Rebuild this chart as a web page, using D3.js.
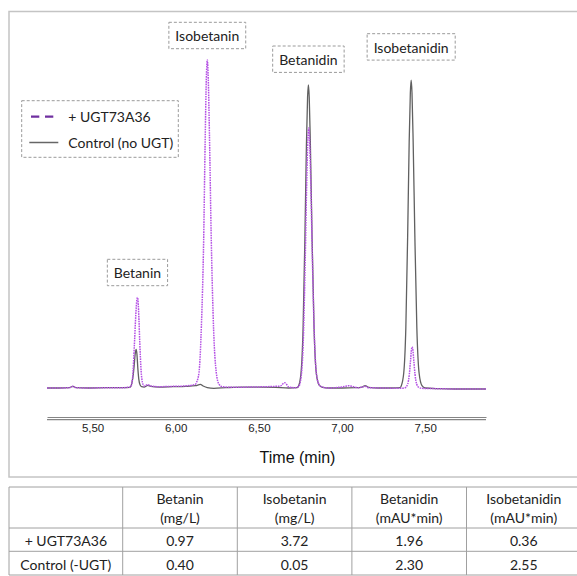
<!DOCTYPE html>
<html>
<head>
<meta charset="utf-8">
<script src="https://cdn.jsdelivr.net/npm/d3@7"></script>
<style>
  html, body { margin: 0; padding: 0; background: #fff; }
  svg { display: block; }
</style>
</head>
<body>
<svg id="chart" width="577" height="576"></svg>
<script>
// ---------- DATA ----------
// Control (no UGT) chromatogram: [time (min), signal]
const controlTrace = [
  [5.226,0.3],[5.30,0.3],[5.36,0.4],[5.382,0.8],[5.40,0.4],[5.48,0.3],[5.58,0.4],[5.68,0.4],
  [5.725,0.5],[5.735,1.5],[5.745,4.5],[5.750,7.0],[5.756,10.5],[5.762,12.0],[5.767,10.5],
  [5.772,6.5],[5.778,3.0],[5.786,1.2],[5.795,0.7],[5.81,0.6],[5.832,1.1],[5.85,0.8],[5.90,0.6],
  [5.98,0.7],[6.06,0.8],[6.12,1.0],[6.148,1.4],[6.165,0.9],[6.19,0.4],[6.23,0.2],[6.30,0.4],
  [6.40,0.6],[6.50,0.6],[6.60,0.5],[6.68,0.3],[6.73,0.4],
  [6.738,0.8],[6.753,4.6],[6.766,18.5],[6.777,46],[6.786,74],[6.793,88.7],[6.798,92.4],
  [6.803,88.7],[6.810,74],[6.820,46],[6.832,18.5],[6.846,4.6],[6.863,1.2],[6.88,0.6],
  [6.92,0.3],[7.00,0.3],[7.08,0.4],[7.12,0.6],[7.14,1.0],[7.16,0.5],[7.22,0.3],[7.30,0.3],[7.35,0.4],
  [7.356,0.9],[7.371,4.7],[7.384,18.8],[7.395,47],[7.404,75],[7.411,90],[7.416,93.9],
  [7.421,90],[7.428,75],[7.438,47],[7.450,18.8],[7.464,4.7],[7.481,1.0],[7.50,0.3],
  [7.58,0.1],[7.68,0.0],[7.78,0.0],[7.866,0.0]
];
// + UGT73A36 chromatogram: [time (min), signal]
const ugtTrace = [
  [5.226,0.3],[5.30,0.3],[5.36,0.4],[5.382,0.8],[5.40,0.4],[5.48,0.3],[5.58,0.4],[5.68,0.4],
  [5.728,0.6],[5.740,3.0],[5.752,14],[5.760,22.5],[5.766,27],[5.770,27.8],[5.774,26.5],
  [5.779,21],[5.784,14],[5.792,5.5],[5.800,2.0],[5.810,0.9],[5.832,1.3],[5.85,0.9],[5.90,0.7],
  [5.98,0.8],[6.05,0.9],[6.10,1.2],[6.12,1.5],
  [6.125,2.0],[6.140,5],[6.155,20],[6.168,45],[6.177,75],[6.184,94],[6.190,100],[6.196,94],
  [6.203,77],[6.214,45],[6.228,18],[6.244,5],[6.260,1.5],[6.28,0.7],[6.35,0.5],[6.45,0.6],
  [6.55,0.7],[6.60,0.8],[6.63,0.9],[6.645,1.6],[6.655,1.9],[6.665,1.5],[6.68,0.6],[6.72,0.4],
  [6.740,0.8],[6.755,4.0],[6.768,15.9],[6.779,39.7],[6.788,63.4],[6.795,76.1],[6.800,79.3],
  [6.805,76.1],[6.812,63.4],[6.822,39.7],[6.834,15.9],[6.848,4.0],[6.865,1.1],[6.88,0.6],
  [6.92,0.3],[6.98,0.5],[7.02,0.8],[7.04,1.0],[7.06,0.8],[7.10,0.4],[7.14,0.8],[7.16,0.4],
  [7.25,0.3],[7.35,0.2],
  [7.380,0.4],[7.395,1.5],[7.405,4.5],[7.412,8.5],[7.418,12],[7.422,12.8],[7.426,12],
  [7.432,8.5],[7.439,4.5],[7.449,1.5],[7.462,0.5],[7.48,0.2],[7.58,0.1],[7.68,0.0],
  [7.78,0.0],[7.866,0.0]
];
const seriesNames = ["+ UGT73A36", "Control (no UGT)"];
const peakNames = ["Betanin", "Isobetanin", "Betanidin", "Isobetanidin"];
const peakTimes = [5.770, 6.190, 6.798, 7.416];
const tickValues = [5.5, 6.0, 6.5, 7.0, 7.5];
const tickLabels = ["5,50", "6,00", "6,50", "7,00", "7,50"];
const axisTitle = "Time (min)";
// table
const tableHeaders = ["Betanin", "Isobetanin", "Betanidin", "Isobetanidin"];
const tableUnits = ["(mg/L)", "(mg/L)", "(mAU*min)", "(mAU*min)"];
const rowLabels = ["+ UGT73A36", "Control (-UGT)"];
const ugtValues = ["0.97", "3.72", "1.96", "0.36"];
const controlValues = ["0.40", "0.05", "2.30", "2.55"];

// ---------- LAYOUT ----------
const svg = d3.select("#chart");
const labelFont = "Lato, 'Open Sans', sans-serif";
const axisFont = "'Liberation Sans', Arial, sans-serif";
const purple = "#b450e4";
const grey = "#606060";
const fs = 14;

svg.append("rect").attr("width", 577).attr("height", 576).attr("fill", "#fff");

// outer frame of chart panel
svg.append("rect")
  .attr("x", 9).attr("y", 11.5).attr("width", 600).attr("height", 465.5)
  .attr("fill", "none").attr("stroke", "#c4c4c4").attr("stroke-width", 1.5);

const x = d3.scaleLinear().domain([5.226, 7.866]).range([47, 486]);
const y = d3.scaleLinear().domain([0, 100]).range([389, 60]);

// axis
const axisG = svg.append("g").attr("transform", "translate(0,417)")
  .call(d3.axisBottom(x).tickValues(tickValues)
    .tickFormat((d, i) => tickLabels[i]).tickSize(0).tickPadding(7));
axisG.select(".domain").attr("stroke", "#858585").attr("stroke-width", 1.2);
axisG.selectAll("text").attr("font-family", axisFont).attr("font-size", 11.5).attr("fill", "#222");
svg.append("line")
  .attr("x1", x.range()[0]).attr("x2", x.range()[1])
  .attr("y1", 419.6).attr("y2", 419.6)
  .attr("stroke", "#858585").attr("stroke-width", 1.2);

svg.append("text")
  .attr("x", (x.range()[0] + x.range()[1]) / 2 + 31).attr("y", 463)
  .attr("text-anchor", "middle").attr("font-family", axisFont).attr("font-size", 16)
  .attr("fill", "#111").text(axisTitle);

// traces
const line = d3.line().x(d => x(d[0])).y(d => y(d[1])).curve(d3.curveMonotoneX);
svg.append("path").datum(controlTrace).attr("d", line)
  .attr("fill", "none").attr("stroke", grey).attr("stroke-width", 1.3);
svg.append("path").datum(ugtTrace).attr("d", line)
  .attr("fill", "none").attr("stroke", purple).attr("stroke-width", 1.5)
  .attr("stroke-dasharray", "1.6,0.9");

// peak label boxes
const boxTops = [259.3, 22.3, 46, 33.7];
peakNames.forEach((name, i) => {
  const g = svg.append("g");
  const cx = x(peakTimes[i]);
  const t = g.append("text").attr("x", cx).attr("y", boxTops[i] + 13.4)
    .attr("text-anchor", "middle").attr("dominant-baseline", "central")
    .attr("font-family", labelFont).attr("font-size", fs).attr("fill", "#222").text(name);
  const w = t.node().getComputedTextLength() + 13;
  g.insert("rect", "text").attr("x", cx - w / 2).attr("y", boxTops[i])
    .attr("width", w).attr("height", 26.4)
    .attr("fill", "#fff").attr("stroke", "#9a9a9a").attr("stroke-width", 1)
    .attr("stroke-dasharray", "3,2");
});

// legend
const lg = svg.append("g");
lg.append("rect").attr("x", 21.7).attr("y", 100.7).attr("width", 156.6).attr("height", 56.6)
  .attr("fill", "#fff").attr("stroke", "#9a9a9a").attr("stroke-dasharray", "3,2");
lg.append("line").attr("x1", 31).attr("x2", 53.5).attr("y1", 116.7).attr("y2", 116.7)
  .attr("stroke", "#7030a0").attr("stroke-width", 2.2).attr("stroke-dasharray", "8.3,5.7");
lg.append("line").attr("x1", 29.3).attr("x2", 58.3).attr("y1", 142.5).attr("y2", 142.5)
  .attr("stroke", "#666").attr("stroke-width", 1.5);
[116.7, 142.5].forEach((yy, i) => {
  lg.append("text").attr("x", 68.3).attr("y", yy).attr("dominant-baseline", "central")
    .attr("font-family", labelFont).attr("font-size", fs).attr("fill", "#222").text(seriesNames[i]);
});

// table
const colEdges = [9, 122.7, 237.3, 351.9, 466.5, 581];
const rowEdges = [487, 528, 551.3, 575];
const tg = svg.append("g");
const tableStroke = "#a0a0a0";
rowEdges.forEach(ry => tg.append("line").attr("x1", 9).attr("x2", 600)
  .attr("y1", ry).attr("y2", ry).attr("stroke", tableStroke).attr("stroke-width", 1));
colEdges.forEach(cx => tg.append("line").attr("x1", cx).attr("x2", cx)
  .attr("y1", rowEdges[0]).attr("y2", rowEdges[3]).attr("stroke", tableStroke).attr("stroke-width", 1));
function cellText(cx, cy, str) {
  tg.append("text").attr("x", cx).attr("y", cy).attr("text-anchor", "middle")
    .attr("dominant-baseline", "central").attr("font-family", labelFont)
    .attr("font-size", fs).attr("fill", "#222").text(str);
}
const colCenter = i => (colEdges[i] + colEdges[i + 1]) / 2;
tableHeaders.forEach((h, i) => {
  cellText(colCenter(i + 1), 498.7, h);
  cellText(colCenter(i + 1), 517.3, tableUnits[i]);
});
cellText(colCenter(0), 540.5, rowLabels[0]);
cellText(colCenter(0), 564.5, rowLabels[1]);
ugtValues.forEach((v, i) => cellText(colCenter(i + 1), 540.5, v));
controlValues.forEach((v, i) => cellText(colCenter(i + 1), 564.5, v));
</script>
</body>
</html>
